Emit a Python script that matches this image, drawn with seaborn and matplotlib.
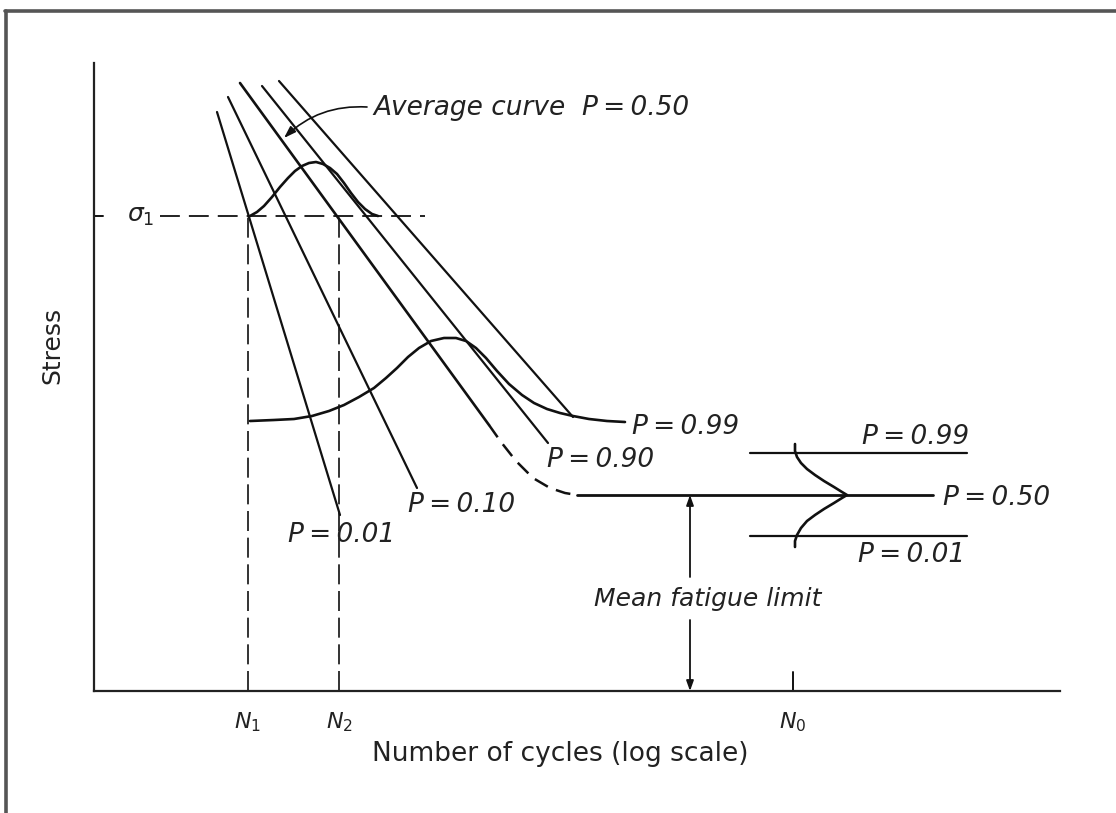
import numpy as np
import pandas as pd
import matplotlib
matplotlib.use("Agg")
import matplotlib.pyplot as plt
import seaborn as sns
from matplotlib.lines import Line2D

# ---------------- data (log-cycle units vs stress units, arbitrary) ----------------
sn_labels = ["P=0.01", "P=0.10", "P=0.50", "P=0.90", "P=0.99"]
sn_x_top = [123, 134, 146, 168, 185]
sn_y_top = [579, 594, 608, 605, 610]
sn_x_end = [246, 323, 395, 454, 479]
sn_y_end = [176, 203, 266, 248, 274]

# dashed knee of the average curve and the fatigue-limit line
knee_x = [395, 407, 422, 439, 456, 471, 483]
knee_y = [266, 249, 230, 213, 203, 198, 196]
fatigue_x = [483, 839]
fatigue_y = [196, 196]

# distribution of life at stress sigma_1
upper_bell_x = [156, 163, 170, 178, 186, 194, 201, 208, 215, 222, 229, 236,
                243, 250, 257, 264, 271, 278, 284]
upper_bell_y = [475, 479, 485, 494, 504, 513, 520, 525, 528, 529, 527, 523,
                517, 508, 498, 489, 482, 477, 475]

# distribution of life at a lower stress
lower_bell_x = [156, 180, 200, 218, 235, 250, 265, 280, 292, 303, 314, 325,
                337, 350, 362, 372, 382, 392, 403, 415, 428, 440, 453, 466,
                479, 495, 513, 531]
lower_bell_y = [270, 271, 272, 275, 280, 286, 294, 303, 313, 323, 334, 343,
                350, 353, 353, 350, 343, 333, 320, 307, 296, 288, 282, 278,
                275, 272, 270, 269]

# distribution of fatigue strength (right side)
right_bell_x = [701, 701, 703, 707, 713, 721, 730, 740, 748, 753, 748, 740,
                730, 721, 713, 707, 703, 701, 701]
right_bell_y = [247, 240, 234, 228, 222, 216, 210, 204, 199, 196, 193, 188,
                182, 176, 170, 163, 156, 150, 144]
right_lines_x = [656, 873]
right_p99_y = 238
right_p01_y = 155

N1, N2, N0 = 154, 245, 699
sigma1 = 475
fatigue_limit = 196

tick_pos = [N1, N2, N0]
tick_labels = [r"$N_1$", r"$N_2$", r"$N_0$"]

# ---------------- figure ----------------
sns.set_theme(style="white")
plt.rcParams["font.family"] = ["DejaVu Sans"]
plt.rcParams["mathtext.fontset"] = "dejavusans"

W, H = 1116, 813
fig = plt.figure(figsize=(W / 100, H / 100), dpi=100)
fig.patch.set_facecolor("white")
ax = fig.add_axes([94 / W, 122 / H, 966 / W, 628 / H])
ax.set_xlim(0, 966)
ax.set_ylim(0, 628)
ax.set_facecolor("white")

ink = "#111111"
txt = "#222222"
ts = "\u2009"  # thin space, mimics the wide hand lettering

# S-N band lines
rows = []
for lab, x0, y0, x1, y1 in zip(sn_labels, sn_x_top, sn_y_top, sn_x_end, sn_y_end):
    rows.append({"x": x0, "y": y0, "curve": lab})
    rows.append({"x": x1, "y": y1, "curve": lab})
df_sn = pd.DataFrame(rows)
for lab in sn_labels:
    sub = df_sn[df_sn.curve == lab]
    sns.lineplot(data=sub, x="x", y="y", sort=False, estimator=None, ax=ax,
                 color=ink, lw=1.6 if lab != "P=0.50" else 1.9, legend=False)

# knee (dashed) + fatigue limit
sns.lineplot(x=knee_x, y=knee_y, sort=False, estimator=None, ax=ax, color=ink,
             lw=1.8, linestyle=(0, (6, 3.5)), legend=False)
sns.lineplot(x=fatigue_x, y=fatigue_y, sort=False, estimator=None, ax=ax,
             color=ink, lw=2.0, legend=False)

# bell curves
for bx, by in [(upper_bell_x, upper_bell_y), (lower_bell_x, lower_bell_y),
               (right_bell_x, right_bell_y)]:
    line_ax = sns.lineplot(x=bx, y=by, sort=False, estimator=None, ax=ax,
                           color=ink, lw=1.9, legend=False)
for ln in ax.get_lines():
    ln.set_solid_joinstyle("round")

# right-hand P lines
for yy in [right_p99_y, right_p01_y]:
    sns.lineplot(x=right_lines_x, y=[yy, yy], sort=False, estimator=None, ax=ax,
                 color=ink, lw=1.6, legend=False)

# sigma_1 reference (tick + dashed)
ax.plot([0, 9], [sigma1, sigma1], color=ink, lw=1.4)
ax.plot([66, 331], [sigma1, sigma1], color=ink, lw=1.3, linestyle=(0, (11, 5)))
ax.text(47, sigma1, r"$\sigma_1$", fontsize=18, color=txt, ha="center",
        va="center")

# N1, N2 dashed verticals
for nx in [N1, N2]:
    ax.plot([nx, nx], [0, sigma1], color=ink, lw=1.2, linestyle=(0, (12, 4)))
# N0 tick
ax.plot([N0, N0], [0, 19], color=ink, lw=1.4)

# mean fatigue limit arrow
arrow_kw = dict(arrowstyle="-|>,head_length=0.5,head_width=0.18", color=ink,
                lw=1.3, shrinkA=0, shrinkB=0)
ax.annotate("", xy=(596, fatigue_limit), xytext=(596, 114), arrowprops=arrow_kw)
ax.annotate("", xy=(596, 0), xytext=(596, 71), arrowprops=arrow_kw)
ax.text(614, 92, "Mean fatigue limit", fontsize=18, style="italic", color=txt,
        ha="center", va="center")

# labels
def plab(s):
    return s.replace("=", ts + "=" + ts)

lab_kw = dict(fontsize=19, style="italic", color=txt, va="center")
ax.text(248, 156, plab("P=0.01"), ha="center", **lab_kw)
ax.text(368, 186, plab("P=0.10"), ha="center", **lab_kw)
ax.text(507, 231, plab("P=0.90"), ha="center", **lab_kw)
ax.text(592, 264, plab("P=0.99"), ha="center", **lab_kw)
ax.text(849, 193, plab("P=0.50"), ha="left", **lab_kw)
ax.text(822, 254, plab("P=0.99"), ha="center", **lab_kw)
ax.text(818, 136, plab("P=0.01"), ha="center", **lab_kw)

# average curve leader
ax.text(279, 583, "Average curve  " + plab("P=0.50"), fontsize=19,
        style="italic", color=txt, ha="left", va="center")
ax.annotate("", xy=(190, 553), xytext=(273, 584),
            arrowprops=dict(arrowstyle="-|>,head_length=0.6,head_width=0.2",
                            color=ink, lw=1.2, shrinkA=0, shrinkB=0,
                            connectionstyle="arc3,rad=0.22"))

# axes styling
for s in ["top", "right"]:
    ax.spines[s].set_visible(False)
for s in ["left", "bottom"]:
    ax.spines[s].set_color("#222222")
    ax.spines[s].set_linewidth(1.6)
ax.set_yticks([])
ax.set_xticks(tick_pos)
ax.set_xticklabels(tick_labels, fontsize=16, color=txt)
ax.tick_params(axis="x", length=0, pad=14)
ax.set_xlabel("Number of cycles (log scale)", fontsize=19, color=txt)
ax.xaxis.set_label_coords(466 / 966, -50 / 628)
ax.set_ylabel("Stress", fontsize=18, color=txt)
ax.yaxis.set_label_coords(-30 / 966, 346 / 628)

# outer frame (top and left edges)
fig.add_artist(Line2D([5 / W, 1.0], [1 - 11 / H, 1 - 11 / H], color="#555555",
                      lw=2.6, transform=fig.transFigure))
fig.add_artist(Line2D([6 / W, 6 / W], [0, 1 - 11 / H], color="#555555",
                      lw=2.6, transform=fig.transFigure))

fig.savefig("out.png", dpi=100, facecolor="white")
